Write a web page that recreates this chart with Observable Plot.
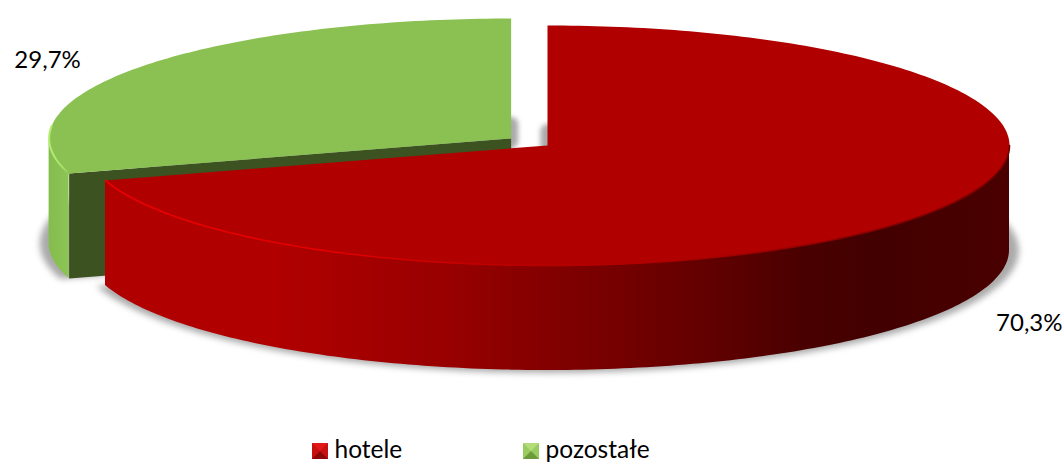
<!DOCTYPE html>
<html><head><meta charset="utf-8">
<script src="https://cdn.jsdelivr.net/npm/d3@7"></script>
<script src="https://cdn.jsdelivr.net/npm/@observablehq/plot@0.6"></script>
<style>
html,body{margin:0;padding:0;background:#fff;overflow:hidden}
#legend{position:relative;height:26px;font:24.5px Lato,sans-serif;color:#000}
#legend .sw{position:absolute;top:7px;width:0;height:0;border-style:solid;border-width:8px}
#legend span.t{position:absolute;top:-2px;line-height:30px}
</style></head><body>
<div id="chart"></div><div id="legend"></div>
<script>
const categories = ["hotele", "pozostałe"];
const shares = [70.3, 29.7];
const labels = ["70,3%", "29,7%"];

// Model: unit pie seen at a slant; the x and y scales hold the squash.
const W = 1064, H = 436, cx = 547, cy = 145, rx = 462, ry = 120;
const depth = 105 / ry, explode = 0.098;
const xScale = {type: "linear", domain: [-cx / rx, (W - cx) / rx], range: [0, W]};
const yScale = {type: "linear", domain: [cy / ry, (cy - H) / ry], range: [0, H]};

const rad = d => d * Math.PI / 180;
let acc = 0;
const slices = shares.map((s, i) => {
  const a0 = acc; acc += s * 3.6; const a1 = acc, mid = (a0 + a1) / 2;
  const e = i === 0 ? 0 : explode;
  return {a0, a1, ox: e * Math.sin(rad(mid)), oy: e * Math.cos(rad(mid))};
});
const [red, green] = slices;
const arc = (s, from, to, dz = 0, k = 1) => {
  const n = Math.max(2, Math.ceil(Math.abs(to - from)));
  return d3.range(n + 1).map(j => {
    const a = from + (to - from) * j / n;
    return {x: s.ox + k * Math.sin(rad(a)), y: s.oy + k * Math.cos(rad(a)) - dz, y2: s.oy + k * Math.cos(rad(a)) - dz - depth};
  });
};
const sector = (s, dz = 0, k = 1) => [{x: s.ox, y: s.oy - dz}, ...arc(s, s.a0, s.a1, dz, k)];
const edge = s => {
  const e = {x: s.ox + Math.sin(rad(s.a0)), y: s.oy + Math.cos(rad(s.a0))};
  return [{x: s.ox, y: s.oy}, e, {x: e.x, y: e.y - depth}, {x: s.ox, y: s.oy - depth}];
};
const gapUp = s => [{x: s.ox, y: s.oy - 0.02}, {x: s.ox, y: s.oy + 0.12}];

const stops = (id, list) => `<linearGradient id="${id}" x1="0" x2="1" y1="0" y2="0">` +
  list.map(([o, c]) => `<stop offset="${o}" stop-color="${c}"/>`).join("") + `</linearGradient>`;
const defs = () => {
  const g = document.createElementNS("http://www.w3.org/2000/svg", "defs");
  g.innerHTML =
    stops("redWall", [[0,"#b00000"],[0.19,"#b00000"],[0.38,"#980000"],[0.65,"#650000"],[0.77,"#4a0000"],[0.85,"#420000"],[1,"#4a0000"]]) +
    stops("redRim", [[0,"#f00000"],[0.25,"#e00000"],[0.46,"#b80000"],[0.6,"#b00000"],[1,"#700000"]]) +
    stops("greenWall", [[0,"#84bc4e"],[1,"#8cc455"]]) +
    stops("greenRim", [[0,"#b4ee70"],[0.7,"#a6e268"],[1,"#8bc152"]]);
  return g;
};
const shade = {x: "x", y: "y", fill: "#aaaaaa", stroke: "none", imageFilter: "blur(3px)"};

const plot = Plot.plot({
  width: W, height: H, margin: 0, axis: null,
  x: xScale, y: yScale,
  marks: [
    defs,
    Plot.line(sector(green, depth, 1.02), shade),
    Plot.line(sector(red, depth, 1.02), shade),
    Plot.line(gapUp(green), {x: "x", y: "y", stroke: "#aaa", strokeWidth: 14, imageFilter: "blur(2.5px)"}),
    Plot.line(gapUp(red), {x: "x", y: "y", stroke: "#aaa", strokeWidth: 14, imageFilter: "blur(2.5px)"}),
    Plot.line(edge(green), {x: "x", y: "y", fill: "#3d5221", stroke: "none"}),
    Plot.areaY(arc(green, green.a0, 270), {x: "x", y1: "y", y2: "y2", fill: "url(#greenWall)"}),
    Plot.line(sector(green), {x: "x", y: "y", fill: "#8bc152", stroke: "none"}),
    Plot.line(arc(green, green.a0, 276), {x: "x", y: "y", stroke: "url(#greenRim)", strokeWidth: 2}),
    Plot.areaY(arc(red, red.a1, 90), {x: "x", y1: "y", y2: "y2", fill: "url(#redWall)"}),
    Plot.line(sector(red), {x: "x", y: "y", fill: "#b00000", stroke: "none"}),
    Plot.line(arc(red, red.a1, 90), {x: "x", y: "y", stroke: "url(#redRim)", strokeWidth: 1.6}),
    Plot.text([labels[1]], {x: () => -1.154, y: () => 0.708, text: d => d, textAnchor: "start", fontSize: 24, fontFamily: "Lato, sans-serif", fill: "#000"}),
    Plot.text([labels[0]], {x: () => 1.1147, y: () => -1.483, text: d => d, textAnchor: "end", fontSize: 24, fontFamily: "Lato, sans-serif", fill: "#000"})
  ]
});
document.getElementById("chart").appendChild(plot);

const legendColors = [["#e01818","#c81010","#8a0808","#c81010"], ["#b4dc78","#98cc60","#6c9a3a","#98cc60"]];
const legendLeft = [312, 523];
const legend = document.getElementById("legend");
categories.forEach((c, i) => {
  const sw = document.createElement("div");
  sw.className = "sw"; sw.style.left = legendLeft[i] + "px";
  sw.style.borderColor = legendColors[i].join(" ");
  const t = document.createElement("span");
  t.className = "t"; t.textContent = c; t.style.left = legendLeft[i] + 22.5 + "px";
  legend.append(sw, t);
});
</script>
</body></html>
